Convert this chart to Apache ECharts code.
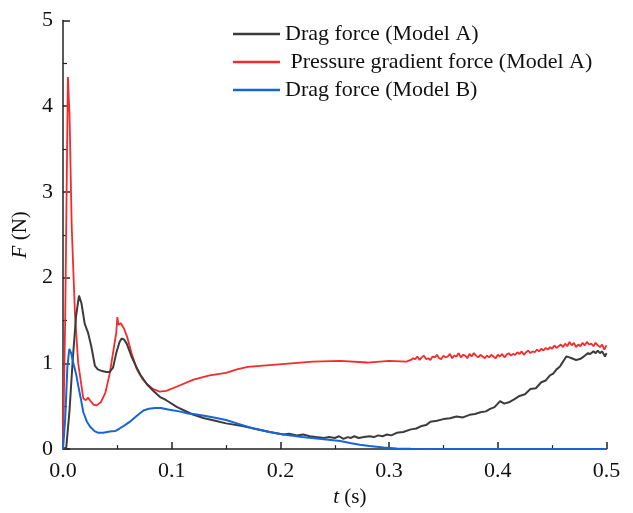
<!DOCTYPE html>
<html>
<head>
<meta charset="utf-8">
<script src="https://cdn.jsdelivr.net/npm/echarts@6/dist/echarts.min.js"></script>
<style>
html,body{margin:0;padding:0;background:#fff;}
#chart{width:633px;height:513px;}
</style>
</head>
<body>
<div id="chart"></div>
<script>
// ---- Data ----
const seriesNames = ['Drag force (Model A)', ' Pressure gradient force (Model A)', 'Drag force (Model B)'];

const tDragA = [0,0.003,0.006,0.009,0.012,0.0147,0.017,0.020,0.023,0.026,0.0294,0.032,0.036,0.040,0.043,0.046,0.049,0.052,0.054,0.056,0.0586,0.063,0.067,0.071,0.077,0.083,0.089,0.095,0.105,0.115,0.12,0.13,0.14,0.15,0.165,0.181,0.19,0.2027,0.208,0.215,0.221,0.227,0.233,0.24,0.245,0.25,0.254,0.258,0.262,0.265,0.268,0.272,0.277,0.282,0.286,0.29,0.294,0.298,0.302,0.307,0.313,0.32,0.325,0.33,0.334,0.338,0.344,0.35,0.356,0.362,0.368,0.374,0.379,0.384,0.389,0.393,0.397,0.400,0.402,0.406,0.411,0.415,0.42,0.425,0.43,0.435,0.44,0.444,0.448,0.451,0.454,0.457,0.459,0.461,0.463,0.466,0.468,0.472,0.4756,0.478,0.48,0.483,0.485,0.488,0.49,0.492,0.494,0.496,0.497,0.4986,0.5];
const fDragA = [0,0.02,0.45,1.05,1.55,1.79,1.70,1.46,1.36,1.20,0.97,0.93,0.91,0.90,0.90,0.95,1.12,1.25,1.29,1.28,1.23,1.08,0.97,0.87,0.76,0.68,0.61,0.57,0.49,0.43,0.40,0.36,0.33,0.30,0.27,0.225,0.20,0.17,0.18,0.16,0.17,0.15,0.14,0.13,0.14,0.13,0.15,0.12,0.14,0.13,0.15,0.13,0.14,0.15,0.14,0.16,0.15,0.17,0.16,0.19,0.20,0.23,0.24,0.27,0.28,0.32,0.33,0.35,0.36,0.38,0.37,0.40,0.41,0.43,0.44,0.47,0.49,0.53,0.56,0.53,0.55,0.58,0.62,0.64,0.70,0.71,0.78,0.80,0.86,0.88,0.93,0.96,1.00,1.04,1.08,1.07,1.06,1.04,1.05,1.07,1.09,1.12,1.11,1.14,1.12,1.15,1.12,1.14,1.15,1.08,1.12];

const tPressA = [0,0.002,0.0045,0.006,0.008,0.011,0.014,0.0187,0.021,0.023,0.026,0.028,0.031,0.035,0.039,0.043,0.047,0.049,0.050,0.051,0.053,0.056,0.059,0.063,0.068,0.073,0.078,0.083,0.089,0.095,0.105,0.12,0.135,0.15,0.16,0.17,0.19,0.21,0.23,0.255,0.28,0.30,0.316,
  0.320,0.322,0.324,0.326,0.328,0.330,0.332,0.334,0.336,0.338,0.340,0.342,0.344,0.346,0.348,0.350,0.352,0.354,0.356,0.358,0.360,0.362,0.364,0.366,0.368,0.370,0.372,0.374,0.376,0.378,0.380,0.382,0.384,0.386,0.388,0.390,0.392,0.394,0.396,0.398,0.400,0.402,0.404,0.406,0.408,0.410,0.412,0.414,0.416,0.418,0.420,0.422,0.424,0.426,0.428,0.430,0.432,0.434,0.436,0.438,0.440,0.442,0.444,0.446,0.448,0.450,0.452,0.454,0.456,0.458,0.460,0.462,0.464,0.466,0.468,0.470,0.472,0.474,0.476,0.478,0.480,0.482,0.484,0.486,0.488,0.490,0.492,0.494,0.496,0.498,0.500];
const fPressA = [0,1.5,4.34,3.9,2.6,1.58,1.0,0.59,0.57,0.60,0.55,0.52,0.51,0.55,0.66,0.88,1.20,1.36,1.54,1.45,1.47,1.41,1.31,1.12,0.93,0.82,0.75,0.70,0.67,0.68,0.73,0.81,0.86,0.89,0.93,0.96,0.98,1.00,1.02,1.03,1.01,1.03,1.02,
  1.04,1.06,1.05,1.08,1.04,1.07,1.09,1.05,1.06,1.04,1.08,1.07,1.10,1.06,1.05,1.09,1.07,1.08,1.11,1.06,1.09,1.08,1.12,1.07,1.10,1.09,1.06,1.11,1.08,1.12,1.09,1.07,1.10,1.08,1.06,1.09,1.07,1.10,1.08,1.06,1.10,1.08,1.11,1.07,1.10,1.12,1.09,1.11,1.10,1.13,1.11,1.14,1.10,1.13,1.15,1.12,1.14,1.13,1.16,1.14,1.17,1.15,1.18,1.16,1.19,1.17,1.21,1.18,1.20,1.22,1.19,1.23,1.20,1.25,1.21,1.24,1.19,1.22,1.20,1.24,1.21,1.25,1.22,1.23,1.20,1.24,1.21,1.19,1.22,1.16,1.21];

const tDragB = [0,0.002,0.004,0.0058,0.0075,0.0095,0.012,0.014,0.0165,0.0187,0.022,0.025,0.029,0.0325,0.037,0.043,0.048,0.052,0.057,0.0616,0.068,0.074,0.079,0.0846,0.090,0.098,0.107,0.115,0.12,0.13,0.14,0.15,0.16,0.175,0.19,0.2027,0.22,0.24,0.255,0.264,0.273,0.282,0.295,0.307,0.32,0.35,0.40,0.45,0.50];
const fDragB = [0,0.35,0.95,1.17,1.12,1.00,0.88,0.74,0.58,0.43,0.32,0.26,0.21,0.19,0.19,0.205,0.21,0.24,0.28,0.32,0.39,0.45,0.47,0.48,0.48,0.46,0.44,0.415,0.41,0.39,0.365,0.34,0.30,0.24,0.20,0.17,0.14,0.115,0.095,0.072,0.05,0.035,0.018,0.008,0.003,0,0,0,0];

const xTicks = ['0.0','0.1','0.2','0.3','0.4','0.5'];
const yTicks = ['0','1','2','3','4','5'];

const colors = ['#3c3c3c', '#f62a2a', '#1566d6'];

function pairs(t, f) { return t.map((v, i) => [v, f[i]]); }

const font = '"Liberation Serif", "Times New Roman", serif';
const chart = echarts.init(document.getElementById('chart'), null, {renderer: 'canvas'});

const axisCommon = {
  axisLine: {show: true, onZero: false, lineStyle: {color: '#222', width: 1.5}},
  axisTick: {show: true, inside: true, length: 7, lineStyle: {color: '#222', width: 1.5}},
  minorTick: {show: true, splitNumber: 2, length: 4, lineStyle: {color: '#222', width: 1.2}},
  splitLine: {show: false},
  axisLabel: {color: '#111', fontFamily: font, fontSize: 22}
};

chart.setOption({
  animation: false,
  backgroundColor: '#fff',
  color: colors,
  grid: {left: 63, right: 26.5, top: 20.5, bottom: 55, containLabel: false},
  legend: {
    orient: 'vertical',
    left: 233, top: 23,
    padding: 0,
    itemGap: 6,
    icon: 'rect',
    itemWidth: 47, itemHeight: 2.5,
    textStyle: {fontFamily: font, fontSize: 22, lineHeight: 22, color: '#111'},
    data: seriesNames
  },
  xAxis: Object.assign({}, axisCommon, {
    type: 'value', min: 0, max: 0.5, interval: 0.1,
    axisLabel: Object.assign({}, axisCommon.axisLabel, {
      margin: 11,
      formatter: (v) => xTicks[Math.round(v * 10)]
    }),
    name: '{i|t} (s)',
    nameLocation: 'middle',
    nameGap: 35,
    nameTextStyle: {fontFamily: font, fontSize: 21, color: '#111', padding: [0, 0, 0, 30],
      rich: {i: {fontFamily: font, fontSize: 21, fontStyle: 'italic', color: '#111'}}}
  }),
  yAxis: Object.assign({}, axisCommon, {
    type: 'value', min: 0, max: 5, interval: 1,
    axisLabel: Object.assign({}, axisCommon.axisLabel, {
      margin: 10,
      formatter: (v) => yTicks[Math.round(v)]
    }),
    name: '{i|F} (N)',
    nameLocation: 'middle',
    nameGap: 28,
    nameTextStyle: {fontFamily: font, fontSize: 21, color: '#111',
      rich: {i: {fontFamily: font, fontSize: 21, fontStyle: 'italic', color: '#111'}}}
  }),
  series: [
    {name: seriesNames[0], type: 'line', data: pairs(tDragA, fDragA), symbol: 'none', lineStyle: {width: 2, color: colors[0]}, z: 3},
    {name: seriesNames[1], type: 'line', data: pairs(tPressA, fPressA), symbol: 'none', lineStyle: {width: 1.8, color: colors[1]}, z: 2},
    {name: seriesNames[2], type: 'line', data: pairs(tDragB, fDragB), symbol: 'none', lineStyle: {width: 2, color: colors[2]}, z: 4}
  ]
});
</script>
</body>
</html>
